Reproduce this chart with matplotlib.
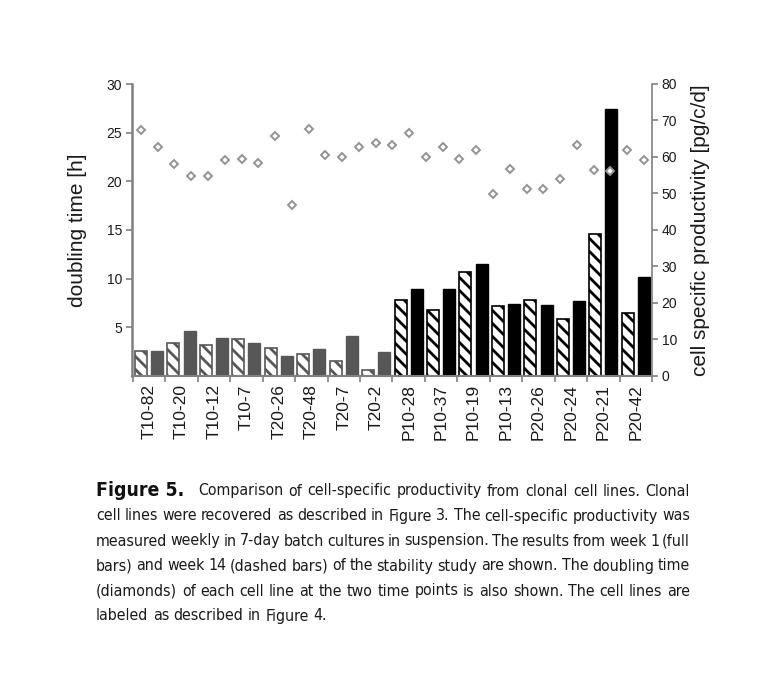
import numpy as np
import matplotlib
matplotlib.use("Agg")
import matplotlib.pyplot as plt
from matplotlib import font_manager
from matplotlib.font_manager import FontProperties

# ---------------- data ----------------
categories = ["T10-82", "T10-20", "T10-12", "T10-7", "T20-26", "T20-48", "T20-7", "T20-2",
              "P10-28", "P10-37", "P10-19", "P10-13", "P20-26", "P20-24", "P20-21", "P20-42"]
week14 = [6.8, 9.0, 8.6, 10.2, 7.6, 6.0, 4.2, 1.6,
          20.7, 18.2, 28.5, 19.3, 20.9, 15.5, 38.8, 17.3]     # dashed bars
week1 = [6.8, 12.3, 10.4, 9.0, 5.6, 7.5, 10.9, 6.7,
         23.8, 23.8, 30.7, 19.7, 19.5, 20.6, 73.2, 27.1]      # full bars
doubling = [25.3, 23.5, 21.8, 20.5, 20.5, 22.2, 22.3, 21.9, 24.7, 17.6, 25.4,
            22.7, 22.5, 23.5, 23.9, 23.7, 25.0, 22.5, 23.5, 22.3, 23.2, 18.7,
            21.3, 19.2, 19.2, 20.2, 23.7, 21.2, 21.1, 23.2, 22.2]
left_ticks = [5, 10, 15, 20, 25, 30]
right_ticks = [0, 10, 20, 30, 40, 50, 60, 70, 80]
series_split = 8  # first 8 lines grey (T), rest black (P)

caption_first = "Comparison of cell-specific productivity from clonal cell lines. Clonal"
caption_lines = [
    "cell lines were recovered as described in Figure 3. The cell-specific productivity was",
    "measured weekly in 7-day batch cultures in suspension. The results from week 1 (full",
    "bars) and week 14 (dashed bars) of the stability study are shown. The doubling time",
    "(diamonds) of each cell line at the two time points is also shown. The cell lines are",
    "labeled as described in Figure 4.",
]

# ---------------- fonts ----------------
names = {f.name for f in font_manager.fontManager.ttflist}
base = "Liberation Sans" if "Liberation Sans" in names else "DejaVu Sans"


def find_condensed(bold):
    best = None
    for f in font_manager.fontManager.ttflist:
        fn = f.fname.lower()
        nm = f.name.lower()
        if "mono" in fn or "serif" in nm or f.style != "normal":
            continue
        if not ("narrow" in fn or "condensed" in fn or "narrow" in nm):
            continue
        w = f.weight if isinstance(f.weight, int) else (700 if "bold" in str(f.weight) else 400)
        if bold != (w >= 600):
            continue
        score = 0 if "liberation" in fn else (1 if "dejavu" in fn else 2)
        if best is None or score < best[0]:
            best = (score, f.fname)
    return best[1] if best else None


cond_reg = find_condensed(False)
cond_bold = find_condensed(True)
cap_prop = FontProperties(fname=cond_reg) if cond_reg else FontProperties(family=base)
bold_prop = FontProperties(fname=cond_bold) if cond_bold else FontProperties(family=base, weight="bold")

plt.rcParams["font.family"] = [base, "DejaVu Sans"]

W, H = 784, 686
DPI = 78
K = 100 / DPI          # point scale so sizes match a 100-dpi layout
plt.rcParams["hatch.linewidth"] = 2.0 * K

fig = plt.figure(figsize=(W / DPI, H / DPI), dpi=DPI)
fig.patch.set_facecolor("white")

ax = fig.add_axes([132 / W, 1 - 376 / H, (652 - 132) / W, (376 - 84) / H])
axd = ax.twinx()

n = len(categories)
grey = "#575757"
for i in range(n):
    dark = i >= series_split
    col = "black" if dark else grey
    ax.bar(2 * i, week14[i], width=0.74, color="white", edgecolor=col, hatch="\\\\",
           linewidth=1.2 * K, zorder=2)
    ax.bar(2 * i + 1, week1[i], width=0.74, color=col, edgecolor=col,
           linewidth=1.0 * K, zorder=2)

nb = 2 * n
xd = np.linspace(0, nb - 1, len(doubling))
axd.plot(xd, doubling, linestyle="none", marker="D", markersize=4.2 * K,
         markerfacecolor="white", markeredgecolor="#939393", markeredgewidth=1.4 * K, zorder=5)

ax.set_xlim(-0.55, nb - 0.5)
ax.set_ylim(0, 80)
axd.set_ylim(0, 30)
ax.yaxis.tick_right()
ax.yaxis.set_label_position("right")
axd.yaxis.tick_left()
axd.yaxis.set_label_position("left")
ax.set_yticks(right_ticks)
axd.set_yticks(left_ticks)

spine_col = "#808080"
for a in (ax, axd):
    for s in a.spines.values():
        s.set_visible(False)
axd.spines["left"].set_visible(True)
axd.spines["left"].set_color(spine_col)
axd.spines["left"].set_linewidth(1.8 * K)
ax.spines["right"].set_visible(True)
ax.spines["right"].set_color(spine_col)
ax.spines["right"].set_linewidth(1.2 * K)
ax.spines["bottom"].set_visible(True)
ax.spines["bottom"].set_color(spine_col)
ax.spines["bottom"].set_linewidth(1.5 * K)

for a in (ax, axd):
    a.tick_params(axis="y", colors=spine_col, labelcolor="#1a1a1a", labelsize=10 * K,
                  length=4 * K, width=1.2 * K, direction="out", pad=3 * K)

bounds = np.arange(n + 1) * 2 - 0.5
centers = np.arange(n) * 2 + 0.5
ax.set_xticks(bounds)
ax.set_xticklabels([""] * len(bounds))
ax.tick_params(axis="x", which="major", colors=spine_col, length=4 * K, width=1.2 * K,
               direction="out")
ax.set_xticks(centers, minor=True)
ax.set_xticklabels(categories, minor=True, rotation=90, fontsize=12.5 * K, color="#1a1a1a")
ax.tick_params(axis="x", which="minor", length=0, pad=6 * K)
for t in ax.get_xticklabels(minor=True):
    t.set_verticalalignment("top")

axd.set_ylabel("doubling time [h]", fontsize=15 * K, color="#1a1a1a", labelpad=14 * K)
ax.set_ylabel("cell specific productivity [pg/c/d]", fontsize=15 * K, color="#1a1a1a",
              rotation=90, labelpad=10 * K)

# ---------------- caption (justified) ----------------
fig.canvas.draw()
renderer = fig.canvas.get_renderer()


def word_width(w, prop, fs):
    t = fig.text(0, 0, w, fontproperties=prop, fontsize=fs)
    wd = t.get_window_extent(renderer).width
    t.remove()
    return wd


def place_words(words, y_px, x0, x1, fs, justify=True):
    widths = [word_width(w, cap_prop, fs) for w in words]
    sp = word_width("a a", cap_prop, fs) - word_width("aa", cap_prop, fs)
    if justify and len(words) > 1:
        gap = (x1 - x0 - sum(widths)) / (len(words) - 1)
    else:
        gap = sp
    x = x0
    for w, wd in zip(words, widths):
        fig.text(x / W, 1 - y_px / H, w, fontproperties=cap_prop, fontsize=fs,
                 va="center", ha="left", color="#1a1a1a")
        x += wd + gap


# choose caption size so the longest line fits the text block
left_x, right_x = 96, 690
cap_fs = 12 * K
longest = max(caption_lines, key=len)
while True:
    ws = [word_width(w, cap_prop, cap_fs) for w in longest.split()]
    sp = word_width("a a", cap_prop, cap_fs) - word_width("aa", cap_prop, cap_fs)
    if sum(ws) + sp * 0.8 * (len(ws) - 1) <= right_x - left_x or cap_fs < 6:
        break
    cap_fs -= 0.25

line_y = [491, 516, 541, 566, 591, 616]
fig_fs = cap_fs * 1.22
fig.text(left_x / W, 1 - line_y[0] / H, "Figure 5.", fontproperties=bold_prop, fontsize=fig_fs,
         va="center", ha="left", color="#111111")
fw = word_width("Figure 5.", bold_prop, fig_fs)
place_words(caption_first.split(), line_y[0], left_x + fw + 14, right_x, cap_fs)
for k, line in enumerate(caption_lines):
    place_words(line.split(), line_y[k + 1], left_x, right_x, cap_fs,
                justify=(k < len(caption_lines) - 1))

fig.savefig("out.png", dpi=DPI, facecolor="white")
